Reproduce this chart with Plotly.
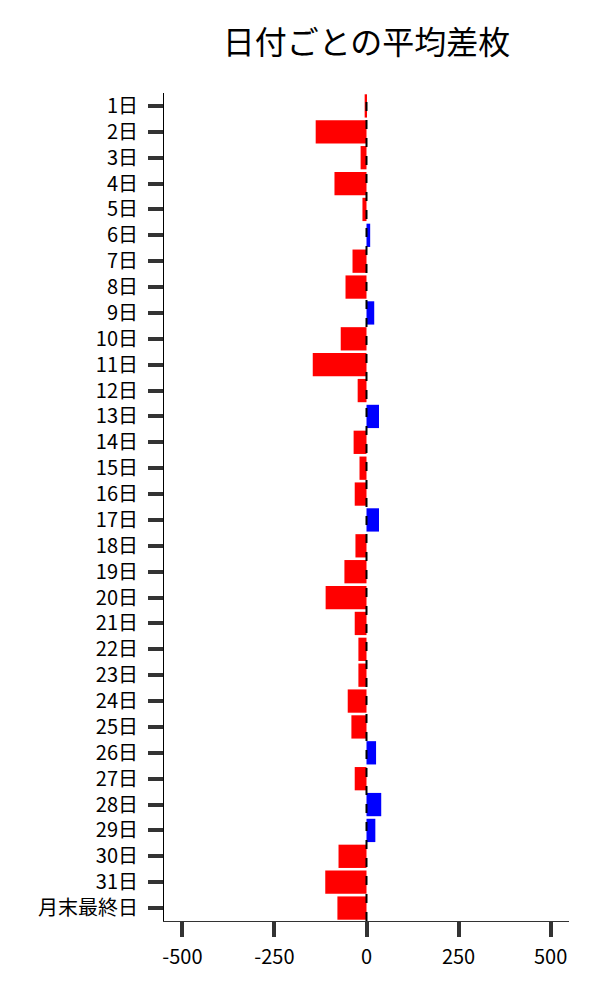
import plotly.graph_objects as go

categories = [f"{i}日" for i in range(1, 32)] + ["月末最終日"]
values = [-5, -138, -16, -87, -11, 10, -38, -57, 21, -70, -146, -24, 34, -35, -19, -32,
          34, -30, -60, -111, -32, -22, -22, -51, -41, 26, -32, 40, 24, -76, -112, -79]
x_ticks = [-500, -250, 0, 250, 500]
x_tick_labels = ["-500", "-250", "0", "250", "500"]
colors = ["#0000ff" if v > 0 else "#ff0000" for v in values]

font_family = "Noto Sans CJK JP"

fig = go.Figure(go.Bar(
    x=values, y=categories, orientation="h",
    marker=dict(color=colors, line=dict(width=0)),
))
fig.add_vline(x=0, line_dash="dash", line_color="black", line_width=2)

fig.update_layout(
    width=600, height=1000,
    margin=dict(l=156, r=39, t=85, b=87),
    plot_bgcolor="white", paper_bgcolor="white",
    bargap=0.1,
    showlegend=False,
    font=dict(family=font_family, size=20, color="black"),
    title=dict(text="日付ごとの平均差枚", x=0.5, xref="paper", y=0.965, yanchor="middle",
               font=dict(family=font_family, size=32, color="black")),
)
fig.update_xaxes(range=[-550, 550], tickvals=x_ticks, ticktext=x_tick_labels,
                 showgrid=False, zeroline=False, showline=True, linecolor="#333", linewidth=1,
                 ticks="outside", ticklen=15, tickwidth=4, tickcolor="#333",
                 ticklabelstandoff=3,
                 tickfont=dict(size=20, color="black"))
fig.update_yaxes(autorange="reversed", showgrid=False, zeroline=False, showline=True,
                 linecolor="black", linewidth=1,
                 ticks="outside", ticklen=15, tickwidth=4, tickcolor="#333",
                 ticklabelstandoff=6,
                 tickfont=dict(size=20, color="black"))

fig.write_html("out.html")
